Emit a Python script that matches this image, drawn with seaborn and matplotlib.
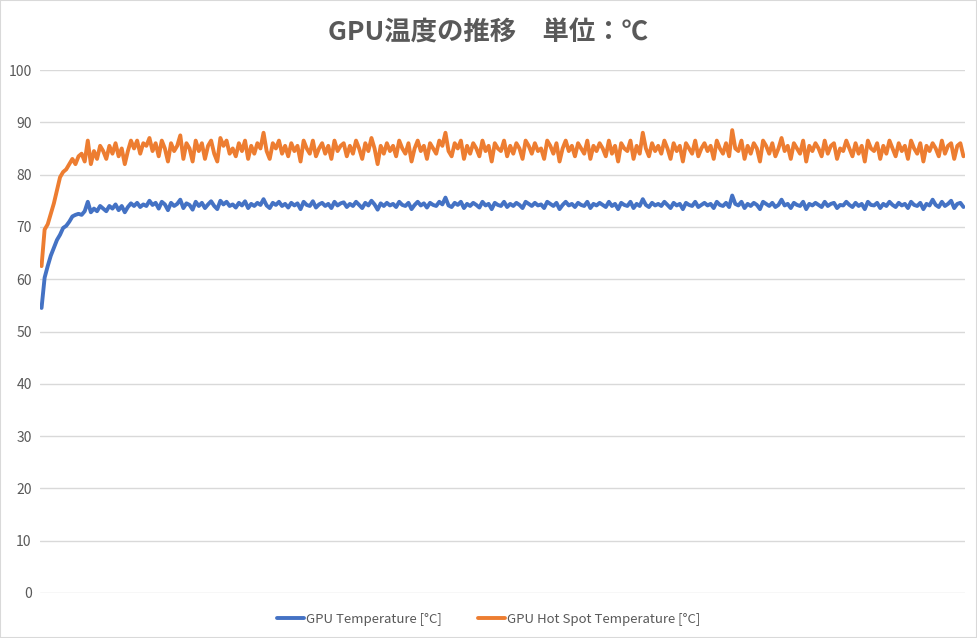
import pandas as pd
import seaborn as sns
import matplotlib.pyplot as plt
from matplotlib.patches import Rectangle

# values (one sample every ~3 px)
gpu_temp = [
    54.5, 60.3, 62.5, 64.5, 66.0, 67.5, 68.5, 69.8, 70.2, 71.0, 72.0, 72.3, 72.5, 72.3, 73.0, 74.8, 72.8, 73.5, 73.0, 74.0,
    73.5, 73.0, 74.0, 73.5, 74.3, 73.2, 74.0, 72.8, 73.8, 74.5, 74.0, 74.6, 73.8, 74.3, 74.0, 75.0, 74.2, 74.6, 73.5, 74.8,
    74.3, 73.2, 74.6, 74.0, 74.4, 75.2, 73.6, 74.5, 74.2, 73.3, 74.8, 74.0, 74.6, 73.6, 74.3, 74.9, 74.0, 73.4, 75.0, 74.3,
    74.8, 74.0, 74.3, 73.7, 74.6, 74.1, 74.9, 73.6, 74.4, 74.0, 74.6, 74.2, 75.3, 74.1, 73.6, 74.6, 74.2, 74.8, 74.0, 74.4,
    73.7, 74.6, 74.1, 74.5, 73.4, 74.8, 74.2, 74.0, 74.9, 73.7, 74.3, 74.6, 74.0, 74.4, 73.6, 74.8, 74.1, 74.5, 74.7, 73.8,
    74.4, 74.0, 74.8, 74.2, 73.6, 74.6, 74.1, 75.0, 74.3, 73.3, 74.5, 74.0, 74.6, 74.1, 74.4, 73.8, 74.8, 74.2, 74.0, 74.6,
    73.4, 74.2, 74.8, 74.1, 74.5, 73.7, 74.6, 74.2, 74.0, 74.8, 74.3, 75.6, 74.1, 73.8, 74.6, 74.2, 74.8, 73.6, 74.4, 74.0,
    74.6, 74.2, 73.7, 74.8, 74.1, 74.4, 73.4, 74.6, 74.2, 74.0, 74.8, 73.8, 74.4, 74.0, 74.6, 74.2, 73.6, 74.8, 74.4, 74.0,
    74.6, 74.1, 74.3, 73.6, 74.8, 74.4, 74.0, 74.6, 73.4, 74.2, 74.8, 74.1, 74.4, 73.8, 74.6, 74.2, 74.0, 74.8, 73.6, 74.4,
    74.1, 74.6, 74.2, 73.8, 74.8, 74.0, 74.4, 73.4, 74.6, 74.2, 74.0, 74.8, 73.6, 74.4, 74.0, 75.3, 74.2, 73.8, 74.6, 74.1,
    74.4, 74.0, 74.8, 74.2, 73.6, 74.6, 74.1, 74.4, 73.4, 74.6, 74.2, 74.0, 74.8, 73.8, 74.2, 74.6, 74.1, 74.4, 73.6, 74.8,
    74.2, 74.0, 74.6, 73.8, 76.0, 74.4, 74.1, 74.8, 73.6, 74.4, 74.0, 74.6, 74.2, 73.4, 74.8, 74.4, 74.0, 74.6, 73.8, 74.2,
    75.2, 74.1, 74.4, 73.6, 74.6, 74.2, 74.0, 74.8, 73.4, 74.4, 74.1, 74.6, 74.2, 73.8, 74.8, 74.0, 74.4, 74.6, 73.6, 74.2,
    74.1, 74.8, 74.2, 73.8, 74.6, 74.0, 74.4, 73.4, 74.8, 74.2, 74.1, 74.6, 73.6, 74.4, 74.0, 74.8, 74.2, 73.8, 74.6, 74.1,
    74.4, 73.6, 74.8, 74.2, 74.0, 74.6, 73.4, 74.4, 74.1, 75.2, 74.2, 73.8, 74.8, 74.0, 74.4, 75.0, 73.6, 74.4, 74.6, 73.8,
]
hotspot_temp = [
    62.5, 69.5, 70.5, 72.5, 74.5, 77.0, 79.5, 80.5, 81.0, 82.0, 83.0, 82.0, 83.5, 84.0, 82.5, 86.5, 82.0, 84.5, 83.0, 85.5,
    84.5, 83.0, 85.5, 84.0, 86.0, 83.5, 85.0, 82.0, 84.5, 86.5, 85.0, 86.5, 84.0, 86.0, 85.5, 87.0, 84.5, 86.0, 83.5, 86.5,
    85.0, 82.5, 86.0, 84.5, 85.5, 87.5, 83.0, 86.0, 85.0, 82.5, 86.5, 84.5, 86.0, 83.0, 85.5, 86.5, 84.0, 82.5, 87.0, 85.5,
    86.5, 84.0, 85.0, 83.5, 86.0, 84.5, 86.5, 83.0, 85.5, 84.0, 86.0, 85.0, 88.0, 84.5, 83.0, 86.0, 85.0, 86.5, 84.0, 85.5,
    83.5, 86.0, 84.5, 85.5, 82.5, 86.5, 85.0, 84.0, 86.5, 83.5, 85.0, 86.0, 84.0, 85.5, 83.0, 86.5, 84.5, 85.5, 86.0, 83.5,
    85.5, 84.0, 86.5, 85.0, 83.0, 86.0, 84.5, 87.0, 85.0, 82.0, 85.5, 84.0, 86.0, 84.5, 85.5, 83.5, 86.5, 85.0, 84.0, 86.0,
    82.5, 85.0, 86.5, 84.5, 85.5, 83.0, 86.0, 85.0, 84.0, 86.5, 85.5, 88.0, 84.5, 83.5, 86.0, 85.0, 86.5, 83.0, 85.5, 84.0,
    86.0, 85.0, 83.5, 86.5, 84.5, 85.5, 82.5, 86.0, 85.0, 84.5, 86.5, 83.5, 85.5, 84.0, 86.0, 85.0, 83.0, 86.5, 85.5, 84.0,
    86.0, 84.5, 85.0, 83.0, 86.5, 85.5, 84.0, 86.0, 82.5, 85.0, 86.5, 84.5, 85.5, 83.5, 86.0, 85.0, 84.0, 86.5, 83.0, 85.5,
    84.5, 86.0, 85.0, 83.5, 86.5, 84.0, 85.5, 82.5, 86.0, 85.0, 84.5, 86.5, 83.0, 85.5, 84.0, 88.0, 85.0, 83.5, 86.0, 84.5,
    85.5, 84.0, 86.5, 85.0, 83.0, 86.0, 84.5, 85.5, 82.5, 86.0, 85.0, 84.0, 86.5, 83.5, 85.0, 86.0, 84.5, 85.5, 83.0, 86.5,
    85.0, 84.0, 86.0, 83.5, 88.5, 85.0, 84.5, 86.5, 83.0, 85.5, 84.0, 86.0, 85.0, 82.5, 86.5, 85.5, 84.0, 86.0, 83.5, 85.0,
    87.0, 84.5, 85.5, 83.0, 86.0, 85.0, 84.0, 86.5, 82.5, 85.5, 84.5, 86.0, 85.0, 83.5, 86.5, 84.0, 85.5, 86.0, 83.0, 85.0,
    84.5, 86.5, 85.0, 83.5, 86.0, 84.0, 85.5, 82.5, 86.5, 85.0, 84.5, 86.0, 83.0, 85.5, 84.0, 86.5, 85.0, 83.5, 86.0, 84.5,
    85.5, 83.0, 86.5, 85.0, 84.0, 86.0, 82.5, 85.5, 84.5, 86.0, 85.0, 83.5, 86.5, 84.0, 85.5, 86.0, 83.0, 85.5, 86.0, 83.5,
]
series_names = ['GPU Temperature [°C]', 'GPU Hot Spot Temperature [°C]']
series_colors = ['#4472C4', '#ED7D31']
title = 'GPU温度の推移\u3000単位：℃'

df = pd.DataFrame({
    'sample': list(range(len(gpu_temp))) * 2,
    'temp': gpu_temp + hotspot_temp,
    'series': [series_names[0]] * len(gpu_temp) + [series_names[1]] * len(hotspot_temp),
})

sns.set_style('white')
plt.rcParams['font.family'] = ['Noto Sans CJK JP', 'DejaVu Sans']

fig = plt.figure(figsize=(9.77, 6.38), dpi=100)
ax = fig.add_axes([40 / 977, 1 - 593 / 638, 925 / 977, 523 / 638])
sns.lineplot(data=df, x='sample', y='temp', hue='series', palette=series_colors,
             linewidth=2.8, ax=ax, legend=False)

ax.set_ylim(0, 100)
ax.set_xlim(-0.5, len(gpu_temp) - 0.5)
ax.set_yticks(range(0, 101, 10))
ax.set_xticks([])
ax.yaxis.grid(True, color='#d9d9d9', linewidth=1)
ax.set_axisbelow(True)
for s in ax.spines.values():
    s.set_visible(False)
ax.tick_params(axis='y', length=0, pad=6, labelsize=10, labelcolor='#595959')
ax.set_xlabel('')
ax.set_ylabel('')

fig.text(0.5, 1 - 33 / 638, title, ha='center', va='center',
         fontsize=19, color='#595959', fontweight='bold')

handles = [plt.Line2D([], [], color=c, linewidth=2.8) for c in series_colors]
fig.legend(handles, series_names, loc='center', bbox_to_anchor=(0.5, 1 - 619 / 638),
           ncol=2, frameon=False, fontsize=9.5, labelcolor='#595959',
           handlelength=2.0, handletextpad=0.15, columnspacing=2.8)

fig.patches.append(Rectangle((0, 0), 1, 1, transform=fig.transFigure, fill=False,
                             edgecolor='#d9d9d9', linewidth=1.5))

plt.savefig('out.png', dpi=100)
